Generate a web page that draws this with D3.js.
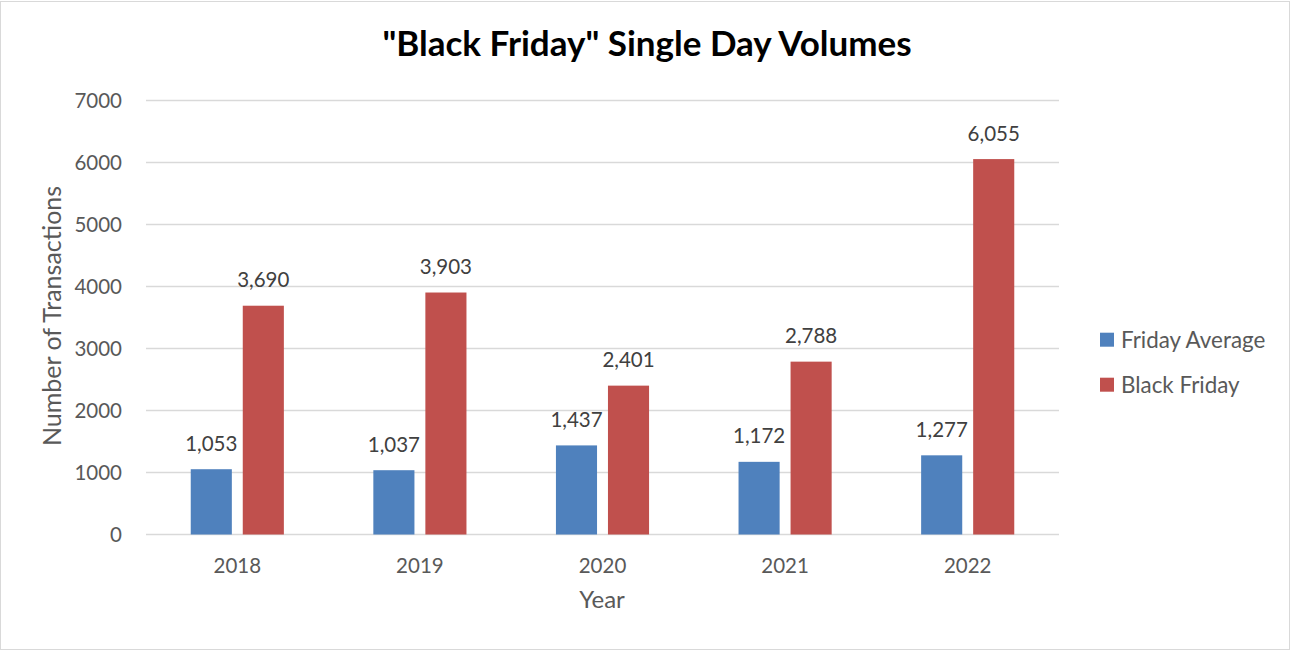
<!DOCTYPE html>
<html><head><meta charset="utf-8">
<script src="https://cdn.jsdelivr.net/npm/d3@7"></script>
<style>
html,body{margin:0;padding:0;background:#fff;}
text{font-family:Lato,"Open Sans",sans-serif;}
</style></head>
<body>
<svg id="c" width="1291" height="651"></svg>
<script>
const years = ["2018","2019","2020","2021","2022"];
const seriesNames = ["Friday Average","Black Friday"];
const fridayAverage = [1053,1037,1437,1172,1277];
const blackFriday = [3690,3903,2401,2788,6055];
const yTicks = [0,1000,2000,3000,4000,5000,6000,7000];
const colors = ["#4f81bd","#c0504d"];

(function(){
const svg = d3.select("#c");
svg.append("rect").attr("x",0.5).attr("y",1.5).attr("width",1289).attr("height",648)
  .attr("fill","#fff").attr("stroke","#d9d9d9").attr("stroke-width",1);

const pLeft=146, pRight=1059, pTop=100.5, pBottom=534.5;
const x = d3.scaleBand().domain(years).range([pLeft,pRight]).paddingInner(0.49).paddingOuter(0.245);
const xs = d3.scaleBand().domain(seriesNames).range([0,x.bandwidth()]).paddingInner(0.21);
const y = d3.scaleLinear().domain([0,7000]).range([pBottom,pTop]);

// gridlines
svg.append("g").selectAll("line").data(yTicks).join("line")
  .attr("x1",pLeft).attr("x2",pRight)
  .attr("y1",d=>y(d)).attr("y2",d=>y(d))
  .attr("stroke","#d9d9d9").attr("stroke-width",1.3);

// y axis labels
const yAxis = d3.axisLeft(y).tickValues(yTicks).tickSize(0).tickPadding(0).tickFormat(d3.format("d"));
const gy = svg.append("g").attr("transform",`translate(${pLeft-24},0)`).call(yAxis);
gy.select(".domain").remove();
gy.selectAll("text").attr("fill","#595959").style("font-size","20.5px").attr("dy","0.35em");

// bars
const data = years.map((yr,i)=>({year:yr, vals:[fridayAverage[i], blackFriday[i]]}));
const groups = svg.append("g").selectAll("g").data(data).join("g")
  .attr("transform",d=>`translate(${x(d.year)},0)`);
groups.selectAll("rect").data(d=>d.vals.map((v,j)=>({name:seriesNames[j],v,j}))).join("rect")
  .attr("x",d=>xs(d.name)).attr("width",xs.bandwidth())
  .attr("y",d=>y(d.v)).attr("height",d=>y(0)-y(d.v))
  .attr("fill",d=>colors[d.j]);
groups.selectAll("text").data(d=>d.vals.map((v,j)=>({name:seriesNames[j],v,j}))).join("text")
  .attr("x",d=>xs(d.name)+xs.bandwidth()/2).attr("y",d=>y(d.v)-18.5)
  .attr("text-anchor","middle").attr("fill","#404040").style("font-size","20.5px")
  .text(d=>d3.format(",")(d.v));

// x axis
const xAxis = d3.axisBottom(x).tickSize(0).tickPadding(0);
const gx = svg.append("g").attr("transform",`translate(0,${pBottom+31})`).call(xAxis);
gx.select(".domain").remove();
gx.selectAll("text").attr("fill","#595959").style("font-size","20.5px").attr("dy","0.35em");

// axis titles
svg.append("text").attr("x",602).attr("y",600).attr("dy","0.35em")
  .attr("text-anchor","middle").attr("fill","#595959").style("font-size","24px").text("Year");
svg.append("text").attr("transform","translate(52,316) rotate(-90)").attr("dy","0.35em")
  .attr("text-anchor","middle").attr("fill","#595959").style("font-size","25px").text("Number of Transactions");

// title
svg.append("text").attr("x",647).attr("y",44).attr("dy","0.35em")
  .attr("text-anchor","middle").attr("fill","#000").style("font-size","35px").style("font-weight","bold")
  .text("\"Black Friday\" Single Day Volumes");

// legend
const lg = svg.append("g").selectAll("g").data(seriesNames).join("g")
  .attr("transform",(d,i)=>`translate(1100,${339.7+i*45})`);
lg.append("rect").attr("x",0).attr("y",-7).attr("width",14).attr("height",14).attr("fill",(d,i)=>colors[i]);
lg.append("text").attr("x",21).attr("y",0).attr("dy","0.35em").attr("fill","#595959")
  .style("font-size","22.4px").text(d=>d);
})();
</script>
</body></html>
